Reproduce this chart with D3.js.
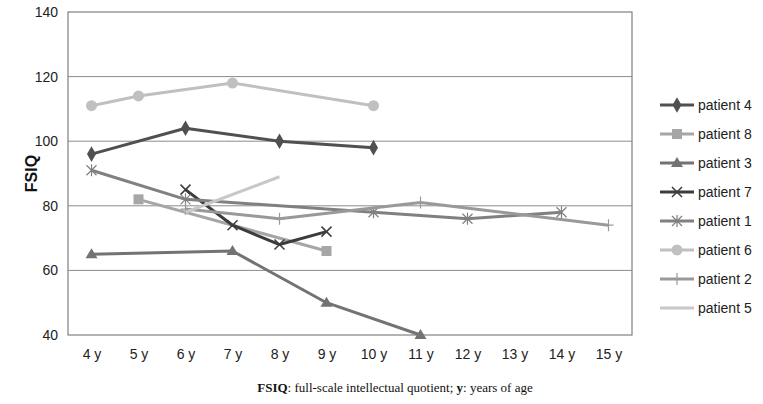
<!DOCTYPE html>
<html>
<head>
<meta charset="utf-8">
<script src="https://cdn.jsdelivr.net/npm/d3@7"></script>
<style>
  body { margin: 0; background: #fff; }
  text { font-family: "Liberation Sans", Arial, sans-serif; }
  text.caption { font-family: "Liberation Serif", "Times New Roman", serif; }
</style>
</head>
<body>
<svg id="chart" width="763" height="404"></svg>
<script>
var ages = ["4 y", "5 y", "6 y", "7 y", "8 y", "9 y", "10 y", "11 y", "12 y", "13 y", "14 y", "15 y"];
var yTicks = [40, 60, 80, 100, 120, 140];

var patient4 = [["4 y", 96], ["6 y", 104], ["8 y", 100], ["10 y", 98]];
var patient8 = [["5 y", 82], ["9 y", 66]];
var patient3 = [["4 y", 65], ["7 y", 66], ["9 y", 50], ["11 y", 40]];
var patient7 = [["6 y", 85], ["7 y", 74], ["8 y", 68], ["9 y", 72]];
var patient1 = [["4 y", 91], ["6 y", 82], ["10 y", 78], ["12 y", 76], ["14 y", 78]];
var patient6 = [["4 y", 111], ["5 y", 114], ["7 y", 118], ["10 y", 111]];
var patient2 = [["6 y", 79], ["8 y", 76], ["11 y", 81], ["15 y", 74]];
var patient5 = [["6 y", 78], ["8 y", 89]];

var series = [
  { name: "patient 4", values: patient4, color: "#505050", marker: "diamond" },
  { name: "patient 8", values: patient8, color: "#a6a6a6", marker: "square" },
  { name: "patient 3", values: patient3, color: "#737373", marker: "triangle" },
  { name: "patient 7", values: patient7, color: "#3c3c3c", marker: "x" },
  { name: "patient 1", values: patient1, color: "#808080", marker: "star" },
  { name: "patient 6", values: patient6, color: "#c0c0c0", marker: "circle" },
  { name: "patient 2", values: patient2, color: "#999999", marker: "plus" },
  { name: "patient 5", values: patient5, color: "#c8c8c8", marker: "none" }
];

var svg = d3.select("#chart"),
  margin = { top: 12, right: 131, bottom: 69, left: 68 },
  width = +svg.attr("width") - margin.left - margin.right,
  height = +svg.attr("height") - margin.top - margin.bottom;

var x = d3.scalePoint().domain(ages).range([0, width]).padding(0.5),
  y = d3.scaleLinear().domain([40, 140]).range([height, 0]);

var g = svg.append("g")
  .attr("transform", "translate(" + margin.left + "," + margin.top + ")");

// grid
g.selectAll(".grid")
  .data(yTicks.slice(1, -1))
  .enter().append("line")
  .attr("x1", 0).attr("x2", width)
  .attr("y1", function (d) { return y(d); })
  .attr("y2", function (d) { return y(d); })
  .attr("stroke", "#8c8c8c").attr("stroke-width", 1);

g.append("rect")
  .attr("width", width).attr("height", height)
  .attr("fill", "none").attr("stroke", "#808080").attr("stroke-width", 1.2);

// axes
var yAxis = g.append("g")
  .call(d3.axisLeft(y).tickValues(yTicks).tickSize(0).tickPadding(10));
yAxis.select(".domain").remove();
yAxis.selectAll("text").attr("font-size", 14).attr("fill", "#222");

var xAxis = g.append("g")
  .attr("transform", "translate(0," + height + ")")
  .call(d3.axisBottom(x).tickSize(0).tickPadding(14));
xAxis.select(".domain").remove();
xAxis.selectAll("text").attr("font-size", 14).attr("fill", "#222");

svg.append("text")
  .attr("transform", "translate(37," + (margin.top + height / 2) + ") rotate(-90)")
  .attr("text-anchor", "middle")
  .attr("font-size", 16).attr("font-weight", "bold").attr("fill", "#111")
  .text("FSIQ");

// marker drawing
function drawMarker(sel, type, color) {
  if (type === "diamond") {
    sel.append("path").attr("d", d3.symbol().type(d3.symbolDiamond).size(70)()).attr("fill", color);
  } else if (type === "square") {
    sel.append("rect").attr("x", -5).attr("y", -5).attr("width", 10).attr("height", 10).attr("fill", color);
  } else if (type === "triangle") {
    sel.append("path").attr("d", "M0,-6L6,4L-6,4Z").attr("fill", color);
  } else if (type === "circle") {
    sel.append("circle").attr("r", 5.5).attr("fill", color);
  } else if (type === "x") {
    sel.append("path").attr("d", "M-5,-5L5,5M-5,5L5,-5").attr("stroke", color).attr("stroke-width", 1.5);
  } else if (type === "star") {
    sel.append("path").attr("d", "M-5,-5L5,5M-5,5L5,-5M0,-6L0,6").attr("stroke", color).attr("stroke-width", 1.2);
  } else if (type === "plus") {
    sel.append("path").attr("d", "M0,-6L0,6M-5,0L5,0").attr("stroke", color).attr("stroke-width", 1.2);
  }
}

var line = d3.line()
  .x(function (d) { return x(d[0]); })
  .y(function (d) { return y(d[1]); });

series.forEach(function (s) {
  g.append("path")
    .datum(s.values)
    .attr("fill", "none")
    .attr("stroke", s.color)
    .attr("stroke-width", 3)
    .attr("stroke-linejoin", "round")
    .attr("d", line);
  s.values.forEach(function (d) {
    var m = g.append("g").attr("transform", "translate(" + x(d[0]) + "," + y(d[1]) + ")");
    drawMarker(m, s.marker, s.color);
  });
});

// legend
var legend = svg.append("g").attr("transform", "translate(660,105)");
series.forEach(function (s, i) {
  var row = legend.append("g").attr("transform", "translate(0," + (i * 29) + ")");
  row.append("line").attr("x1", 0).attr("x2", 34).attr("y1", 0).attr("y2", 0)
    .attr("stroke", s.color).attr("stroke-width", 3);
  drawMarker(row.append("g").attr("transform", "translate(17,0)"), s.marker, s.color);
  row.append("text").attr("x", 38).attr("y", 5)
    .attr("font-size", 14).attr("fill", "#222")
    .text(s.name);
});

// caption
var cap = svg.append("text")
  .attr("class", "caption")
  .attr("x", 395).attr("y", 392)
  .attr("text-anchor", "middle")
  .attr("font-size", 13).attr("fill", "#111");
cap.append("tspan").attr("font-weight", "bold").text("FSIQ");
cap.append("tspan").text(": full-scale intellectual quotient; ");
cap.append("tspan").attr("font-weight", "bold").text("y");
cap.append("tspan").text(": years of age");
</script>
</body>
</html>
